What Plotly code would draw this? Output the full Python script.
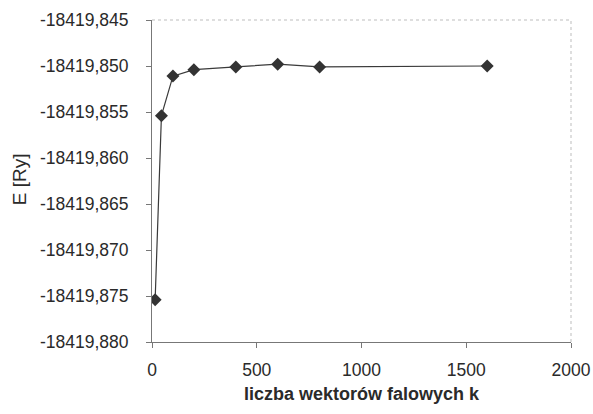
import plotly.graph_objects as go

# Total energy vs. number of plane waves
k_values = [15, 45, 100, 200, 400, 600, 800, 1600]
energy_ry = [-18419.8754, -18419.8554, -18419.8511, -18419.8504,
             -18419.8501, -18419.8498, -18419.8501, -18419.8500]

y_ticks = [-18419.845, -18419.850, -18419.855, -18419.860,
           -18419.865, -18419.870, -18419.875, -18419.880]
y_tick_text = [f"{v:.3f}".replace(".", ",") for v in y_ticks]
x_ticks = [0, 500, 1000, 1500, 2000]

font_family = "Liberation Sans, Arial, sans-serif"
text_color = "#2a2a2a"

fig = go.Figure()
fig.add_trace(go.Scatter(
    x=k_values, y=energy_ry, mode="lines+markers",
    line=dict(color="#3a3a3a", width=1.2),
    marker=dict(symbol="diamond", size=10, color="#333333"),
    hoverinfo="skip", showlegend=False,
))

# light frame on top and right of the plotting area
fig.add_shape(type="line", xref="paper", yref="paper", x0=0, x1=1, y0=1, y1=1,
              line=dict(color="#bdbdbd", width=1, dash="dot"))
fig.add_shape(type="line", xref="paper", yref="paper", x0=1, x1=1, y0=0, y1=1,
              line=dict(color="#bdbdbd", width=1, dash="dot"))

fig.update_layout(
    width=593, height=414,
    margin=dict(l=152, r=22, t=20, b=72),
    paper_bgcolor="white", plot_bgcolor="white",
    font=dict(family=font_family, size=17.5, color=text_color),
    xaxis=dict(
        range=[0, 2000], tickvals=x_ticks, ticks="outside", ticklen=5,
        tickcolor="#777777", showline=True, linecolor="#777777", linewidth=1,
        showgrid=False, zeroline=False, ticklabelstandoff=7, automargin=False,
    ),
    yaxis=dict(
        range=[y_ticks[-1], y_ticks[0]], tickvals=y_ticks, ticktext=y_tick_text,
        ticks="outside", ticklen=5, tickcolor="#777777", showline=True,
        linecolor="#777777", linewidth=1, showgrid=False, zeroline=False,
        ticklabelstandoff=14, automargin=False,
    ),
    annotations=[
        dict(text="E [Ry]", xref="paper", yref="paper", x=-0.317, y=0.506,
             xanchor="center", yanchor="middle", textangle=-90, showarrow=False,
             font=dict(size=19, color=text_color)),
        dict(text="<b>liczba wektorów falowych k</b>", xref="paper", yref="paper",
             x=0.5, y=-0.16, xanchor="center", yanchor="middle", showarrow=False,
             font=dict(size=18, color=text_color)),
    ],
)

fig.write_html("out.html")
